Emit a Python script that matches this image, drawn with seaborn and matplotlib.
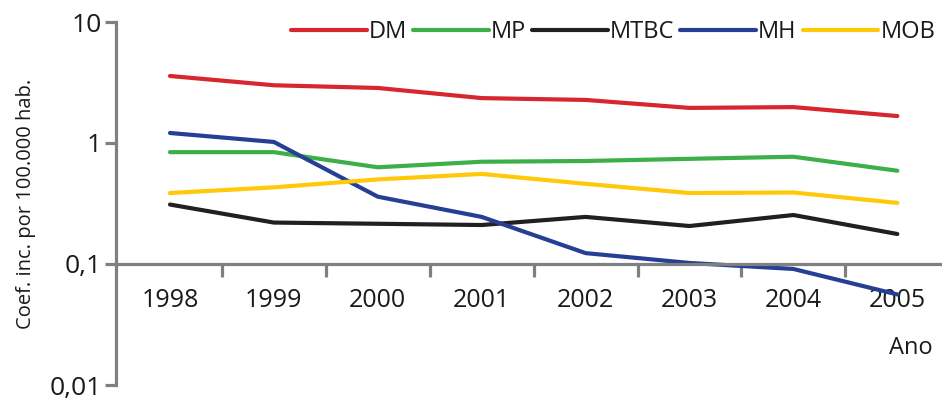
import matplotlib
matplotlib.use("Agg")
import matplotlib.pyplot as plt
import seaborn as sns
import pandas as pd
from matplotlib.ticker import FixedLocator, FixedFormatter, NullFormatter

years = [1998, 1999, 2000, 2001, 2002, 2003, 2004, 2005]
dm = [3.58, 3.0, 2.85, 2.35, 2.27, 1.95, 1.98, 1.67]
mp = [0.84, 0.84, 0.63, 0.70, 0.71, 0.74, 0.77, 0.59]
mtbc = [0.31, 0.22, 0.215, 0.21, 0.245, 0.206, 0.254, 0.177]
mh = [1.21, 1.02, 0.36, 0.245, 0.123, 0.102, 0.091, 0.056]
mob = [0.386, 0.43, 0.50, 0.555, 0.46, 0.386, 0.39, 0.32]
series_names = ["DM", "MP", "MTBC", "MH", "MOB"]
colors = ["#d7262e", "#3daf49", "#231f20", "#253f94", "#ffc90a"]
ytick_vals = [0.01, 0.1, 1, 10]
ytick_labels = ["0,01", "0,1", "1", "10"]

rows = []
for name, vals in zip(series_names, [dm, mp, mtbc, mh, mob]):
    for y, v in zip(years, vals):
        rows.append({"Ano": y, "valor": v, "serie": name})
df = pd.DataFrame(rows)

sns.set_style("white")
plt.rcParams["font.family"] = ["Open Sans", "DejaVu Sans"]

fig = plt.figure(figsize=(9.42, 4.0), dpi=100)
ax = fig.add_axes([0.1231, 0.0375, 0.8769, 0.9075])

sns.lineplot(data=df, x="Ano", y="valor", hue="serie", hue_order=series_names,
             palette=colors, linewidth=3, ax=ax, legend=True)

ax.set_yscale("log")
ax.set_ylim(0.01, 10)
ax.set_xlim(years[0] - 0.52, years[-1] + 0.43)

gray = "#808080"
txt = "#1a1a1a"
for s in ["top", "right"]:
    ax.spines[s].set_visible(False)
ax.spines["left"].set_color(gray)
ax.spines["left"].set_linewidth(2.3)
ax.spines["bottom"].set_color(gray)
ax.spines["bottom"].set_linewidth(2.3)
ax.spines["bottom"].set_position(("data", 0.1))

ax.yaxis.set_major_locator(FixedLocator(ytick_vals))
ax.yaxis.set_major_formatter(FixedFormatter(ytick_labels))
ax.yaxis.set_minor_locator(FixedLocator([]))
ax.tick_params(axis="y", which="major", direction="out", length=8, width=2.3,
               color=gray, labelsize=19, pad=2, left=True, labelcolor=txt)

ax.xaxis.set_major_locator(FixedLocator(years))
ax.xaxis.set_major_formatter(FixedFormatter([str(y) for y in years]))
ax.xaxis.set_minor_locator(FixedLocator([y + 0.5 for y in years[:-1]]))
ax.xaxis.set_minor_formatter(NullFormatter())
ax.tick_params(axis="x", which="major", length=0, labelsize=18, pad=17, labelcolor=txt)
ax.tick_params(axis="x", which="minor", direction="out", length=9, width=2.3,
               color=gray, bottom=True)

ax.set_xlabel("")
ax.set_ylabel("Coef. inc. por 100.000 hab.", fontsize=14.5, color=txt, labelpad=10)
fig.text(0.99, 0.13, "Ano", ha="right", va="center", fontsize=17, color=txt)

leg = ax.legend(loc="center right", bbox_to_anchor=(0.993, 0.92),
                bbox_transform=fig.transFigure, ncol=5, frameon=False,
                handlelength=3.2, handletextpad=0.1, columnspacing=0.25,
                borderpad=0, borderaxespad=0, fontsize=17)
for t in leg.get_texts():
    t.set_color(txt)

fig.savefig("out.png", dpi=100)
